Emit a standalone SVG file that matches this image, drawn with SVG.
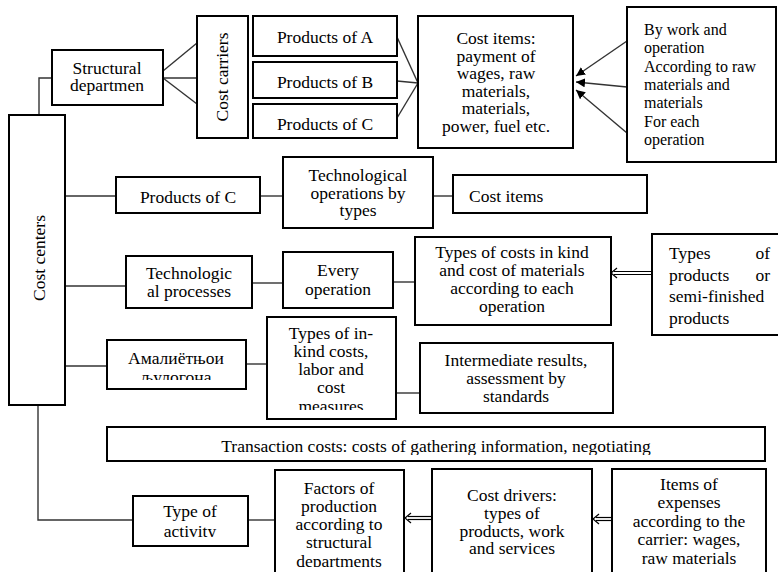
<svg xmlns="http://www.w3.org/2000/svg" width="778" height="572" viewBox="0 0 778 572" font-family="Liberation Serif, serif">
<style>
.box{fill:#fff;stroke:#000;stroke-width:2}
.ln{stroke:#333;stroke-width:1.4;fill:none}
.dbl{stroke:#000;stroke-width:1.2;fill:none}
text{font-size:17.5px;fill:#000}
.c{text-anchor:middle}
.s{font-size:16px}
</style>
<defs>
<marker id="ah" viewBox="0 0 10 10" refX="10" refY="5" markerWidth="9" markerHeight="9" orient="auto" markerUnits="userSpaceOnUse">
<path d="M0,0 L10,5 L0,10 z" fill="#000"/>
</marker>
<clipPath id="cpAmal"><rect x="107" y="340" width="139" height="40"/></clipPath>
<clipPath id="cpInk"><rect x="267" y="317" width="129" height="93"/></clipPath>
<clipPath id="cpTr"><rect x="107" y="427" width="658" height="28"/></clipPath>
<clipPath id="cpAct"><rect x="133" y="496" width="115" height="41"/></clipPath>
<clipPath id="cpFac"><rect x="275" y="470" width="129" height="97"/></clipPath>
</defs>

<g id="connectors">
<polyline class="ln" points="39,115 39,78 52,78"/>
<line class="ln" x1="163" y1="71" x2="197" y2="43"/>
<line class="ln" x1="163" y1="78" x2="197" y2="78"/>
<line class="ln" x1="163" y1="78" x2="197" y2="104"/>
<line class="ln" x1="397" y1="37" x2="418" y2="83"/>
<line class="ln" x1="397" y1="81" x2="418" y2="83"/>
<line class="ln" x1="397" y1="118" x2="418" y2="83"/>
<line class="ln" x1="627" y1="41" x2="576" y2="76" marker-end="url(#ah)"/>
<line class="ln" x1="627" y1="87" x2="576" y2="82" marker-end="url(#ah)"/>
<line class="ln" x1="627" y1="133" x2="576" y2="90" marker-end="url(#ah)"/>
<line class="ln" x1="65" y1="196" x2="116" y2="196"/>
<line class="ln" x1="260" y1="196" x2="283" y2="196"/>
<line class="ln" x1="433" y1="196" x2="453" y2="196"/>
<line class="ln" x1="65" y1="286" x2="126" y2="286"/>
<line class="ln" x1="252" y1="283" x2="283" y2="283"/>
<line class="ln" x1="393" y1="282" x2="415" y2="282"/>
<g class="dbl">
<line x1="652" y1="271.5" x2="614" y2="271.5"/>
<line x1="652" y1="274.5" x2="614" y2="274.5"/>
<polyline points="617,268 611,273 617,278"/>
</g>
<line class="ln" x1="65" y1="366" x2="107" y2="366"/>
<line class="ln" x1="246" y1="364" x2="267" y2="364"/>
<line class="ln" x1="396" y1="393" x2="420" y2="393"/>
<polyline class="ln" points="38,405 38,520 133,520"/>
<line class="ln" x1="248" y1="520" x2="275" y2="520"/>
<g class="dbl">
<line x1="432" y1="516.5" x2="408" y2="516.5"/>
<line x1="432" y1="519.5" x2="408" y2="519.5"/>
<polyline points="411,513 405,518 411,523"/>
</g>
<g class="dbl">
<line x1="612" y1="517.5" x2="596" y2="517.5"/>
<line x1="612" y1="520.5" x2="596" y2="520.5"/>
<polyline points="599,514 593,519 599,524"/>
</g>
</g>

<g id="cost-centers">
<rect class="box" x="9" y="115" width="56" height="290"/>
<text class="c" transform="translate(45,258) rotate(-90)">Cost centers</text>
</g>
<g id="structural">
<rect class="box" x="52" y="50" width="111" height="55"/>
<text class="c" x="107" y="74">Structural</text>
<text class="c" x="107" y="91">departmen</text>
</g>
<g id="cost-carriers">
<rect class="box" x="197" y="16" width="51" height="122"/>
<text class="c" transform="translate(228,77) rotate(-90)">Cost carriers</text>
</g>
<g id="products-a">
<rect class="box" x="253" y="16" width="144" height="40"/>
<text class="c" x="325" y="43">Products of A</text>
</g>
<g id="products-b">
<rect class="box" x="253" y="62" width="144" height="36"/>
<text class="c" x="325" y="88">Products of B</text>
</g>
<g id="products-c">
<rect class="box" x="253" y="104" width="144" height="34"/>
<text class="c" x="325" y="130">Products of C</text>
</g>
<g id="cost-items-top">
<rect class="box" x="418" y="16" width="155" height="132"/>
<text class="c" x="496" y="44">Cost items:</text>
<text class="c" x="496" y="61.6">payment of</text>
<text class="c" x="496" y="79.2">wages, raw</text>
<text class="c" x="496" y="96.8">materials,</text>
<text class="c" x="496" y="114.4">materials,</text>
<text class="c" x="496" y="132">power, fuel etc.</text>
</g>
<g id="by-work">
<rect class="box" x="627" y="7" width="149" height="155"/>
<text class="s" x="644" y="35">By work and</text>
<text class="s" x="644" y="53.3">operation</text>
<text class="s" x="644" y="71.6">According to raw</text>
<text class="s" x="644" y="89.9">materials  and</text>
<text class="s" x="644" y="108.2">materials</text>
<text class="s" x="644" y="126.5">For each</text>
<text class="s" x="644" y="144.8">operation</text>
</g>
<g id="products-c2">
<rect class="box" x="116" y="177" width="144" height="36"/>
<text class="c" x="188" y="203">Products of C</text>
</g>
<g id="tech-ops">
<rect class="box" x="283" y="157" width="150" height="71"/>
<text class="c" x="358" y="181">Technological</text>
<text class="c" x="358" y="198.5">operations by</text>
<text class="c" x="358" y="216">types</text>
</g>
<g id="cost-items-2">
<rect class="box" x="453" y="175" width="194" height="38"/>
<text x="469" y="202">Cost items</text>
</g>
<g id="tech-processes">
<rect class="box" x="126" y="256" width="126" height="52"/>
<text class="c" x="189" y="279">Technologic</text>
<text class="c" x="189" y="297">al processes</text>
</g>
<g id="every-op">
<rect class="box" x="283" y="252" width="110" height="56"/>
<text class="c" x="338" y="276">Every</text>
<text class="c" x="338" y="295">operation</text>
</g>
<g id="types-costs-kind">
<rect class="box" x="415" y="237" width="196" height="88"/>
<text class="c" x="512" y="258">Types of costs in kind</text>
<text class="c" x="512" y="276">and cost of materials</text>
<text class="c" x="512" y="294">according to each</text>
<text class="c" x="512" y="312">operation</text>
</g>
<g id="types-products">
<rect class="box" x="652" y="234" width="130" height="101"/>
<text x="669" y="259">Types</text>
<text x="770" y="259" text-anchor="end">of</text>
<text x="669" y="280.5">products</text>
<text x="770" y="280.5" text-anchor="end">or</text>
<text x="669" y="302">semi-finished</text>
<text x="669" y="323.5">products</text>
</g>
<g id="amal">
<rect class="box" x="107" y="340" width="139" height="49"/>
<g clip-path="url(#cpAmal)">
<text class="c" x="176" y="364">Амалиётњои</text>
<text class="c" x="176" y="383">љулогона</text>
</g>
</g>
<g id="in-kind">
<rect class="box" x="267" y="317" width="129" height="102"/>
<g clip-path="url(#cpInk)">
<text class="c" x="331" y="339">Types of in-</text>
<text class="c" x="331" y="357">kind costs,</text>
<text class="c" x="331" y="375">labor and</text>
<text class="c" x="331" y="393">cost</text>
<text class="c" x="331" y="412">measures</text>
</g>
</g>
<g id="intermediate">
<rect class="box" x="420" y="343" width="193" height="70"/>
<text class="c" x="516" y="366">Intermediate results,</text>
<text class="c" x="516" y="384">assessment by</text>
<text class="c" x="516" y="402">standards</text>
</g>
<g id="transaction">
<rect class="box" x="107" y="427" width="658" height="34"/>
<g clip-path="url(#cpTr)">
<text class="c" x="436" y="452">Transaction costs: costs of gathering information, negotiating</text>
</g>
</g>
<g id="activity">
<rect class="box" x="133" y="496" width="115" height="50"/>
<g clip-path="url(#cpAct)">
<text class="c" x="190" y="517">Type of</text>
<text class="c" x="190" y="537">activity</text>
</g>
</g>
<g id="factors">
<rect class="box" x="275" y="470" width="129" height="106"/>
<g clip-path="url(#cpFac)">
<text class="c" x="339" y="494">Factors of</text>
<text class="c" x="339" y="512">production</text>
<text class="c" x="339" y="530">according to</text>
<text class="c" x="339" y="548">structural</text>
<text class="c" x="339" y="567">departments</text>
</g>
</g>
<g id="cost-drivers">
<rect class="box" x="432" y="469" width="160" height="107"/>
<text class="c" x="512" y="501">Cost drivers:</text>
<text class="c" x="512" y="519">types of</text>
<text class="c" x="512" y="537">products, work</text>
<text class="c" x="512" y="554">and services</text>
</g>
<g id="items-expenses">
<rect class="box" x="612" y="469" width="154" height="107"/>
<text class="c" x="689" y="490">Items of</text>
<text class="c" x="689" y="508">expenses</text>
<text class="c" x="689" y="527">according to the</text>
<text class="c" x="689" y="545">carrier: wages,</text>
<text class="c" x="689" y="564">raw materials</text>
</g>
</svg>
